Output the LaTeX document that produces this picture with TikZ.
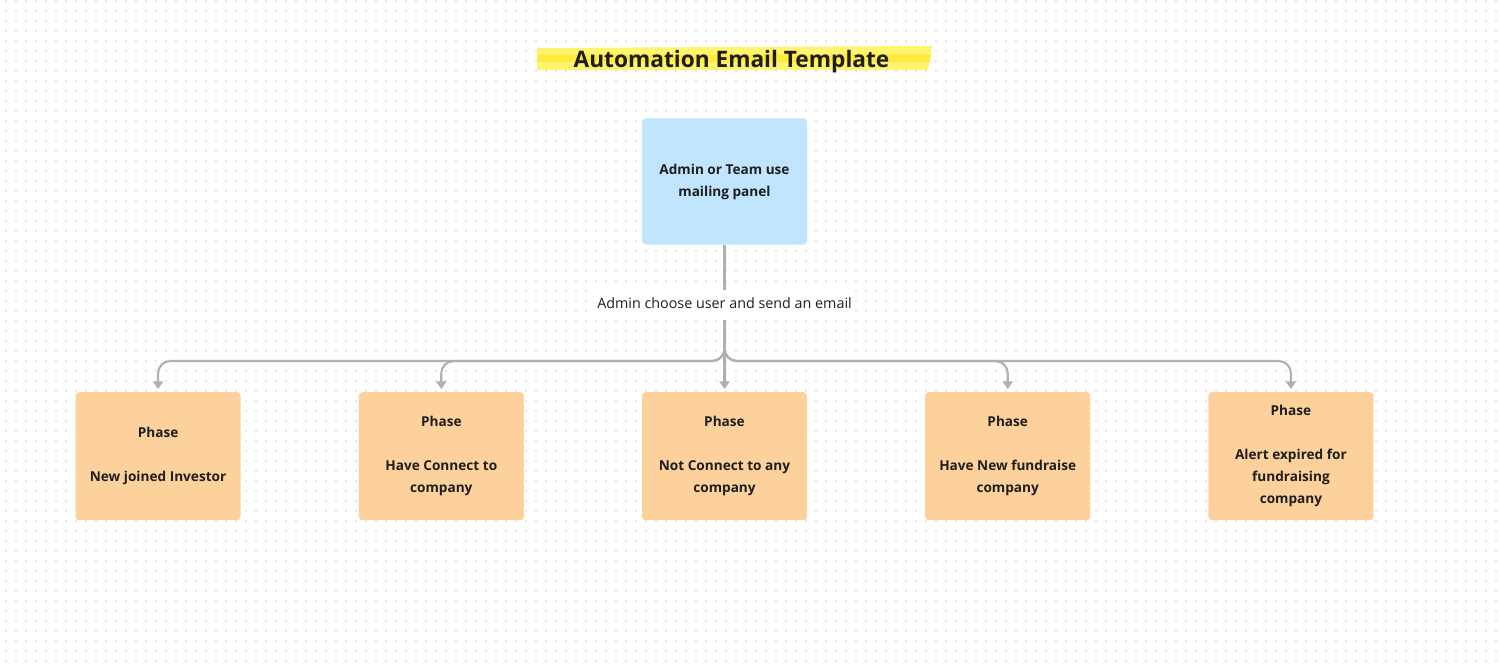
\documentclass[tikz,border=0pt]{standalone}
\usepackage{fontspec}
\setmainfont{Open Sans}
\usetikzlibrary{arrows.meta,positioning}
\definecolor{boxblue}{HTML}{C2E5FF}
\definecolor{boxorange}{HTML}{FCD19C}
\definecolor{hilite}{HTML}{FFF46E}
\definecolor{hilitedeep}{HTML}{FFEA3D}
\definecolor{wiregray}{HTML}{B0B0B0}
\definecolor{ink}{HTML}{1E1E1E}
\definecolor{griddot}{HTML}{E6E6E6}

\begin{document}
\begin{tikzpicture}[
  card/.style={draw=none, rounded corners=2pt, minimum width=3.3cm, minimum height=2.52cm, align=center, font=\fontsize{7.75}{12.5}\selectfont\bfseries, text=ink, inner sep=2pt, execute at begin node={\rule{0pt}{11.5pt}}},
  admin/.style={card, fill=boxblue},
  phase/.style={card, fill=boxorange, minimum height=2.56cm},
  lbl/.style={font=\fontsize{8.15}{10}\selectfont, text=ink, fill=white, inner xsep=2pt, inner ysep=4.3pt, text height=6.3pt, text depth=1.9pt},
  link/.style={wiregray, line width=1.2pt},
  arr/.style={link, -{Triangle[length=4.3pt, width=5.7pt]}, rounded corners=7pt, shorten >=1.6pt},
  node distance=2.35cm,
]
  % Canvas and dot grid
  \useasboundingbox (0,0) rectangle (30,-13.4);
  \fill[white] (0,0) rectangle (30,-13.4);
  \foreach \r in {0,...,66}
    \draw[griddot, line width=0.032cm, dash pattern=on 0.032cm off 0.168cm] (0.104,-0.02-0.2*\r) -- (30,-0.02-0.2*\r);

  % Title with highlighter
  \fill[hilite] (10.74,-0.96) -- (18.64,-0.92) -- (18.56,-1.40) -- (10.74,-1.40) -- cycle;
  \fill[hilitedeep] (10.74,-1.10) -- (18.62,-1.08) -- (18.60,-1.24) -- (10.74,-1.24) -- cycle;
  \node[font=\fontsize{12.9}{14}\selectfont\bfseries, text=ink] (title) at (14.63,-1.24) {Automation Email Template};

  % Mailing panel
  \node[admin] (admin) at (14.49,-3.63) {Admin or Team use\\mailing panel};

  % Phases
  \node[phase, below=2.94cm of admin] (p3) {Phase\\[12.5pt]Not Connect to any\\company};
  \node[phase, left=of p3] (p2) {Phase\\[12.5pt]Have Connect to\\company};
  \node[phase, left=of p2] (p1) {Phase\\[12.5pt]New joined Investor};
  \node[phase, right=of p3] (p4) {Phase\\[12.5pt]Have New fundraise\\company};
  \node[phase, right=of p4] (p5) {Phase\\[12.5pt]Alert expired for\\fundraising\\company};

  % Action label and hub
  \node[lbl] (act) at (14.49,-6.1) {Admin choose user and send an email};
  \coordinate (hub) at (14.49,-7.22);

  % Connectors
  \draw[link] (admin) -- (act);
  \draw[arr] (act) -- (p3);
  \draw[arr] (act.south) -- (hub) -| (p1.north);
  \draw[arr] (act.south) -- (hub) -| (p2.north);
  \draw[arr] (act.south) -- (hub) -| (p4.north);
  \draw[arr] (act.south) -- (hub) -| (p5.north);
\end{tikzpicture}
\end{document}
